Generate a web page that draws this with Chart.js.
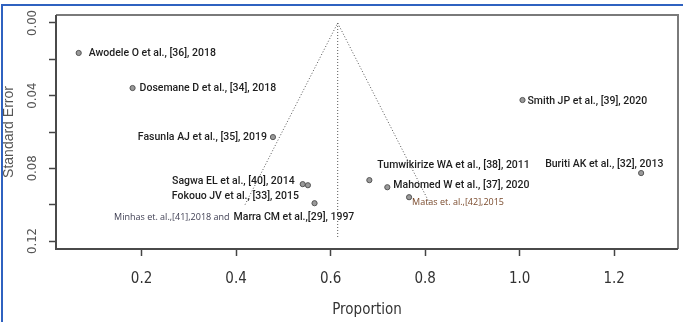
<!DOCTYPE html>
<html>
<head>
<meta charset="utf-8">
<script src="https://cdn.jsdelivr.net/npm/chart.js@4.4.1/dist/chart.umd.min.js"></script>
<style>
  html, body { margin: 0; padding: 0; background: #fff; overflow: hidden; }
  #wrap { position: relative; width: 683px; height: 322px; }
  #frame { position: absolute; left: 1px; top: 4px; width: 700px; height: 340px;
           border-top: 2px solid #2f62c0; border-left: 2px solid #2f62c0; pointer-events: none; }
</style>
</head>
<body>
<div id="wrap">
  <canvas id="funnel" width="683" height="322"></canvas>
  <div id="frame"></div>
</div>
<script>
// study estimates
const proportion = [0.067, 0.181, 0.478, 1.006, 0.541, 0.552, 0.566, 0.682, 0.720, 0.766, 1.257];
const stdError   = [0.0165, 0.0358, 0.0628, 0.0424, 0.0887, 0.0893, 0.0992, 0.0865, 0.0904, 0.0959, 0.0826];

// pseudo confidence funnel and pooled estimate
const funnelX  = [0.419, 0.615, 0.811];
const funnelSE = [0.100, 0.000, 0.100];
const centreX  = [0.615, 0.615];
const centreSE = [0.000, 0.118];

const xTicks = [0.2, 0.4, 0.6, 0.8, 1.0, 1.2];
const yTicks = [0.00, 0.02, 0.04, 0.06, 0.08, 0.10, 0.12];
const yTickLabels = ['0.00', '', '0.04', '', '0.08', '', '0.12'];

const labelTexts = [
  'Awodele O et al., [36], 2018',
  'Dosemane D et al., [34], 2018',
  'Fasunla AJ et al., [35], 2019',
  'Smith JP et al., [39], 2020',
  'Sagwa EL et al., [40], 2014',
  'Fokouo JV et al., [33], 2015',
  'Marra CM et al.,[29], 1997',
  'Minhas et. al.,[41],2018 and',
  'Tumwikirize WA et al., [38], 2011',
  'Mahomed W et al., [37], 2020',
  'Matas et. al.,[42],2015',
  'Buriti AK et al., [32], 2013'
];

// where each label sits relative to its point (pixels)
const mainFont = '500 10.5px Roboto, "Liberation Sans", sans-serif';
const smallFont = '9px "Open Sans", "Liberation Sans", sans-serif';
const labelSpots = [
  { p: 0, dx: 10, dy: 0, align: 'left' },
  { p: 1, dx: 7, dy: 0, align: 'left' },
  { p: 2, dx: -6, dy: 0, align: 'right' },
  { p: 3, dx: 5, dy: 1, align: 'left' },
  { p: 4, dx: -8, dy: -3, align: 'right' },
  { p: 5, dx: -9, dy: 11, align: 'right' },
  { p: 6, dx: -81, dy: 14, align: 'left' },
  { p: 6, dx: -85, dy: 14, align: 'right', small: true, color: '#3e3e52' },
  { p: 7, dx: 8, dy: -15, align: 'left' },
  { p: 8, dx: 6, dy: -2, align: 'left' },
  { p: 9, dx: 3, dy: 5, align: 'left', small: true, color: '#7a4a2c' },
  { p: 10, dx: -96, dy: -9, align: 'left' }
];

const toXY = (xs, ys) => xs.map((x, i) => ({ x: x, y: ys[i] }));

const labelPlugin = {
  id: 'studyLabels',
  beforeDatasetsDraw(chart) {
    const ctx = chart.ctx;
    const pts = chart.getDatasetMeta(2).data;
    ctx.save();
    ctx.textBaseline = 'middle';
    labelSpots.forEach((s, i) => {
      const el = pts[s.p];
      ctx.font = s.small ? smallFont : mainFont;
      ctx.fillStyle = s.color || '#1e1e1e';
      ctx.textAlign = s.align;
      ctx.fillText(labelTexts[i], el.x + s.dx, el.y + s.dy);
    });
    ctx.restore();
  }
};

const boxPlugin = {
  id: 'plotBox',
  afterDraw(chart) {
    const { left, top, right, bottom } = chart.chartArea;
    const ctx = chart.ctx;
    ctx.save();
    ctx.lineWidth = 2;
    ctx.strokeStyle = '#7a7a7a';
    ctx.beginPath();
    ctx.moveTo(left, top); ctx.lineTo(right, top); ctx.lineTo(right, bottom);
    ctx.stroke();
    ctx.strokeStyle = '#4a4a4a';
    ctx.beginPath();
    ctx.moveTo(left, top); ctx.lineTo(left, bottom); ctx.lineTo(right, bottom);
    ctx.stroke();
    ctx.restore();
  }
};

const narrow = "'Liberation Sans Narrow', 'DejaVu Sans Condensed', 'Liberation Sans', sans-serif";

new Chart(document.getElementById('funnel'), {
  type: 'scatter',
  data: {
    datasets: [
      {
        data: toXY(funnelX, funnelSE),
        showLine: true,
        borderColor: '#555',
        borderWidth: 1,
        borderDash: [1, 2],
        pointRadius: 0,
        fill: false
      },
      {
        data: toXY(centreX, centreSE),
        showLine: true,
        borderColor: '#555',
        borderWidth: 1,
        borderDash: [1, 2],
        pointRadius: 0,
        fill: false
      },
      {
        data: toXY(proportion, stdError),
        pointRadius: 2.6,
        pointBackgroundColor: '#9a9a9a',
        pointBorderColor: '#555',
        pointBorderWidth: 1
      }
    ]
  },
  options: {
    responsive: false,
    animation: false,
    layout: { padding: { top: 15, right: 1, left: 0, bottom: 0 } },
    plugins: { legend: { display: false }, tooltip: { enabled: false } },
    scales: {
      x: {
        type: 'linear',
        min: 0.019,
        max: 1.335,
        afterBuildTicks: s => { s.ticks = xTicks.map(v => ({ value: v })); },
        afterFit: s => { s.height = 73; },
        border: { display: false },
        grid: { drawOnChartArea: false, tickLength: 7, tickColor: '#444', tickWidth: 1.5 },
        ticks: {
          padding: 14,
          color: '#333',
          font: { family: narrow, size: 15 },
          callback: v => v.toFixed(1)
        },
        title: {
          display: true,
          text: 'Proportion',
          color: '#333',
          font: { family: narrow, size: 15 },
          padding: { top: 0, bottom: 3 }
        }
      },
      y: {
        type: 'linear',
        reverse: true,
        min: -0.0044,
        max: 0.1244,
        afterBuildTicks: s => { s.ticks = yTicks.map(v => ({ value: v })); },
        afterFit: s => { s.width = 56; },
        border: { display: false },
        grid: { drawOnChartArea: false, tickLength: 7, tickColor: '#444', tickWidth: 1.5 },
        ticks: {
          minRotation: 90,
          maxRotation: 90,
          crossAlign: 'center',
          padding: 3,
          color: '#555',
          font: { family: narrow, size: 13 },
          callback: (v, i) => yTickLabels[i]
        },
        title: {
          display: true,
          text: 'Standard Error',
          color: '#555',
          font: { family: '"Liberation Sans", sans-serif', size: 14 },
          padding: { top: 1, bottom: 0 }
        }
      }
    }
  },
  plugins: [labelPlugin, boxPlugin]
});
</script>
</body>
</html>
